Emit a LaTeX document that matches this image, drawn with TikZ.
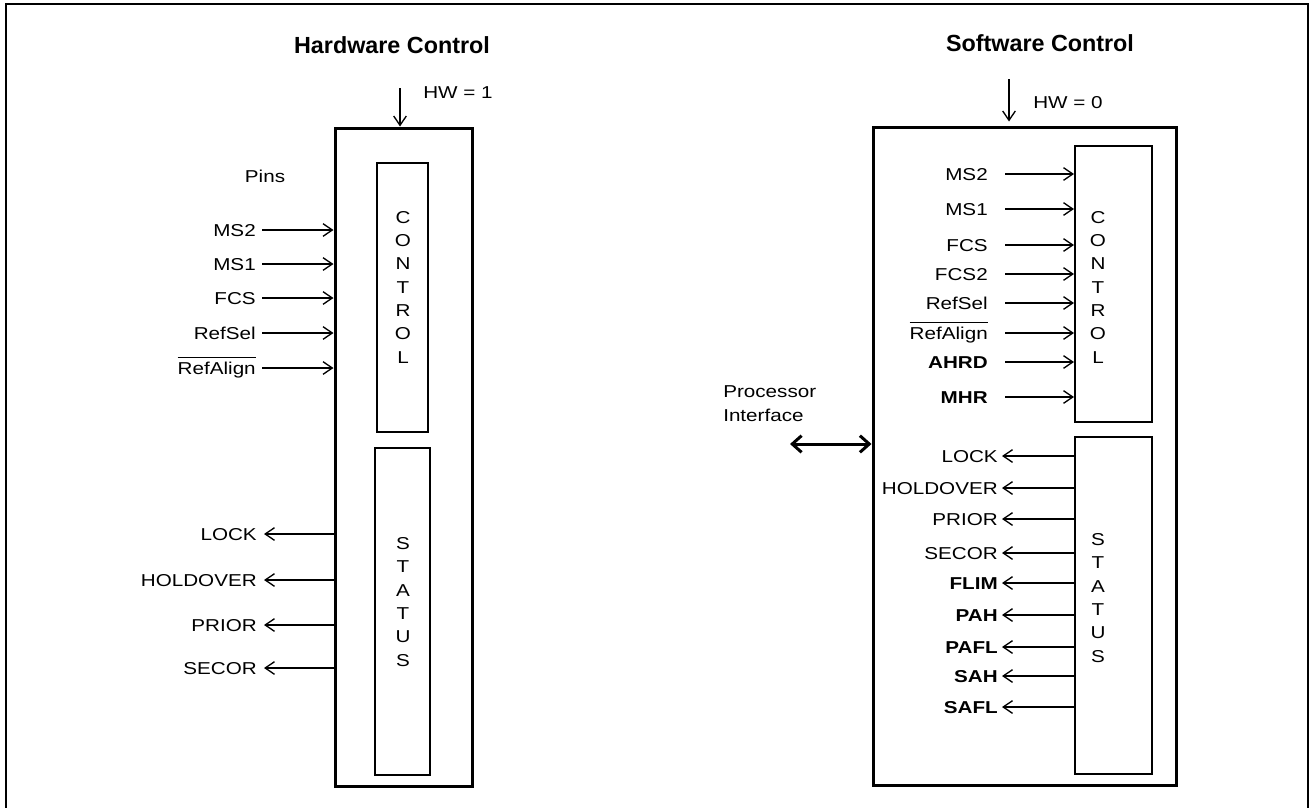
\documentclass[tikz,border=0pt]{standalone}
\usepackage{fontspec}
\setmainfont{Liberation Sans}[FakeStretch=1.2]
\newfontfamily\titlefont{Liberation Sans}
\usetikzlibrary{arrows.meta,fit}
\newlength\ovlw
\newcommand{\ovl}[1]{\settowidth{\ovlw}{#1}\rlap{\smash{\rule[12.2pt]{\ovlw}{0.9pt}}}#1}
\begin{document}
\begin{tikzpicture}[x=0.75pt,y=-0.75pt,
  font=\fontsize{12.9pt}{17.5pt}\selectfont,
  frame/.style={line width=1.5pt},
  obox/.style={draw,line width=2.25pt,inner sep=0pt},
  ibox/.style={draw,line width=1.5pt,inner sep=0pt},
  stack/.style={align=center,inner sep=0pt},
  lbl/.style={inner sep=0pt,text height=9.2pt,text depth=0pt},
  sig/.style={line width=1pt,-{Straight Barb[length=7pt,width=9.5pt]}},
  bus/.style={line width=2.25pt,{Straight Barb[length=7pt,width=12.5pt]}-{Straight Barb[length=7pt,width=12.5pt]}},
  ttl/.style={font=\titlefont\bfseries\fontsize{17.5pt}{20pt}\selectfont,inner sep=0pt}]
\useasboundingbox (0,0) rectangle (1310,807);
\draw[frame] (6,812) -- (6,4) -- (1308,4) -- (1308,812);

% ---------- Hardware control ----------
\node[ttl] (t1) at (392,45) {Hardware Control};
\node[obox,fit={(335,128) (472,786)}] (Lout) {};
\node[ibox,fit={(377,163) (428,432)}] (Lctl) {};
\node[ibox,fit={(375,448) (430,775)}] (Lsts) {};
\node[stack] (Lctlt) at (403,287) {C\\O\\N\\T\\R\\O\\L};
\node[stack] (Lstst) at (403,602) {S\\T\\A\\T\\U\\S};
\node[lbl,anchor=west] (hw1) at (423,92) {HW = 1};
\coordinate (hw1s) at (400,88);
\draw[sig] (hw1s) -- (hw1s |- Lout.north);
\node[inner sep=0pt] (pins) at (265,176) {Pins};
\foreach \y/\t [count=\i] in {230/MS2,264/MS1,298/FCS,333/RefSel,368/\ovl{RefAlign}}{
  \node[lbl,anchor=east] (lc\i) at (256,\y) {\t};
  \draw[sig] ([xshift=4.5pt]lc\i.east) -- (Lout.west |- lc\i.east);
}
\foreach \y/\t [count=\i] in {534/LOCK,580/HOLDOVER,625/PRIOR,668/SECOR}{
  \node[lbl,anchor=east] (ls\i) at (257,\y) {\t};
  \draw[sig] (Lout.west |- ls\i.east) -- ([xshift=5.25pt]ls\i.east);
}

% ---------- Software control ----------
\node[ttl] (t2) at (1040,43) {Software Control};
\node[obox,fit={(873,127) (1176,785)}] (Rout) {};
\node[ibox,fit={(1075,146) (1152,422)}] (Rctl) {};
\node[ibox,fit={(1075,437) (1152,774)}] (Rsts) {};
\node[stack] (Rctlt) at (1098,287) {C\\O\\N\\T\\R\\O\\L};
\node[stack] (Rstst) at (1098,598) {S\\T\\A\\T\\U\\S};
\node[lbl,anchor=west] (hw0) at (1033,102) {HW = 0};
\coordinate (hw0s) at (1009,79);
\draw[sig,shorten >=3pt] (hw0s) -- (hw0s |- Rout.north);
\foreach \y/\t [count=\i] in {174/MS2,209/MS1,245/FCS,274/FCS2,303/RefSel,333/\ovl{RefAlign},362/\textbf{AHRD},397/\textbf{MHR}}{
  \node[lbl,anchor=east] (rc\i) at (988,\y) {\t};
  \draw[sig] ([xshift=12.75pt]rc\i.east) -- (Rctl.west |- rc\i.east);
}
\foreach \y/\t [count=\i] in {456/LOCK,488/HOLDOVER,519/PRIOR,553/SECOR,583/\textbf{FLIM},615/\textbf{PAH},647/\textbf{PAFL},676/\textbf{SAH},707/\textbf{SAFL}}{
  \node[lbl,anchor=east] (rs\i) at (998,\y) {\t};
  \draw[sig] (Rsts.west |- rs\i.east) -- ([xshift=3pt]rs\i.east);
}
\node[align=left,anchor=west,inner sep=0pt] (proc) at (723,403.5) {Processor\\Interface};
\coordinate (pi) at (790,444);
\draw[bus] (pi) -- (Rout.west |- pi);
\end{tikzpicture}
\end{document}
